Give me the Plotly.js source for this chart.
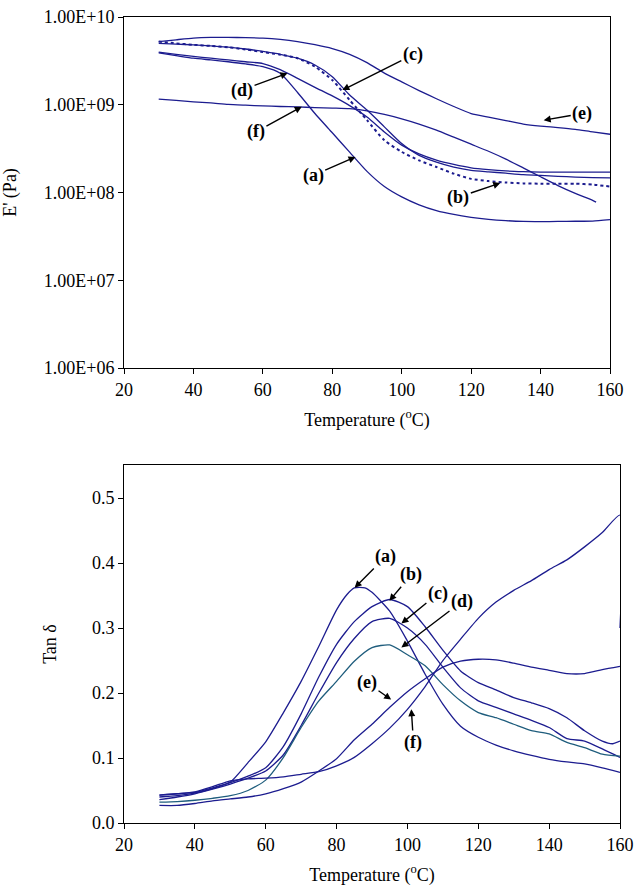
<!DOCTYPE html>
<html>
<head>
<meta charset="utf-8">
<script src="https://cdn.plot.ly/plotly-3.0.1.min.js"></script>
<style>html,body{margin:0;padding:0;background:#fff}#chart{width:634px;height:887px}</style>
</head>
<body>
<div id="chart"></div>
<script>
// ---------- Storage modulus E' (Pa) ----------
var tE = [30,35,40,45,50,55,60,65,70,75,80,85,90,95,100,105,110,115,120,125,130,135,140,145,150,155,160];
var tEf = [30,35,40,45,50,55,60,65,70,75,80,85,90,95,100,105,110,115,120,125,130,135,140,145,150,155,156];
var Ea = [3.89e9,3.63e9,3.39e9,3.24e9,3.09e9,2.92e9,2.72e9,2.29e9,1.38e9,7.94e8,4.79e8,2.88e8,1.74e8,1.17e8,8.91e7,7.24e7,6.22e7,5.62e7,5.22e7,4.95e7,4.78e7,4.68e7,4.66e7,4.68e7,4.70e7,4.73e7,4.90e7];
var Eb = [5.25e9,5.01e9,4.82e9,4.68e9,4.52e9,4.27e9,3.98e9,3.72e9,3.39e9,2.72e9,1.91e9,1.13e9,6.67e8,3.94e8,2.90e8,2.32e8,1.95e8,1.64e8,1.43e8,1.35e8,1.30e8,1.27e8,1.26e8,1.26e8,1.26e8,1.23e8,1.17e8];
var Ec = [5.01e9,4.90e9,4.82e9,4.68e9,4.53e9,4.32e9,4.05e9,3.76e9,3.39e9,2.84e9,2.09e9,1.29e9,8.69e8,5.60e8,3.61e8,2.65e8,2.22e8,1.95e8,1.79e8,1.72e8,1.66e8,1.60e8,1.57e8,1.53e8,1.50e8,1.48e8,1.47e8];
var Ed = [3.98e9,3.76e9,3.55e9,3.39e9,3.24e9,3.09e9,2.95e9,2.51e9,2.00e9,1.58e9,1.26e9,9.77e8,7.24e8,4.90e8,3.47e8,2.75e8,2.34e8,2.09e8,1.91e8,1.82e8,1.76e8,1.73e8,1.71e8,1.71e8,1.71e8,1.71e8,1.71e8];
var Ee = [5.25e9,5.50e9,5.75e9,5.85e9,5.85e9,5.82e9,5.75e9,5.56e9,5.25e9,4.84e9,4.37e9,3.76e9,3.02e9,2.29e9,1.82e9,1.45e9,1.17e9,9.55e8,7.94e8,7.24e8,6.61e8,6.03e8,5.71e8,5.50e8,5.25e8,4.90e8,4.61e8];
var Ef = [1.16e9,1.12e9,1.08e9,1.05e9,1.01e9,9.89e8,9.70e8,9.55e8,9.44e8,9.29e8,9.16e8,9.02e8,8.51e8,7.76e8,6.92e8,6.03e8,5.13e8,4.27e8,3.55e8,2.95e8,2.40e8,1.91e8,1.51e8,1.20e8,9.77e7,8.13e7,7.76e7];
var eTickVals = [1e6,1e7,1e8,1e9,1e10];
var eTickText = ['1.00E+06','1.00E+07','1.00E+08','1.00E+09','1.00E+10'];

// ---------- Tan delta ----------
var tTa = [30,35,40,45,50,55,60,65,70,75,80,83,85,88,90,95,100,105,110,115,120,125,130,135,140,145,150,155,160];
var Ta = [0.040,0.042,0.046,0.053,0.063,0.093,0.125,0.170,0.218,0.272,0.328,0.352,0.362,0.362,0.355,0.326,0.280,0.229,0.183,0.149,0.132,0.120,0.111,0.104,0.098,0.094,0.091,0.085,0.078];
var tTb = [30,35,40,45,50,55,60,65,70,75,80,85,90,95,100,105,110,115,120,125,130,135,140,145,150,155,158,160];
var Tb = [0.043,0.045,0.047,0.054,0.062,0.072,0.085,0.118,0.168,0.225,0.275,0.310,0.333,0.344,0.333,0.302,0.266,0.234,0.216,0.205,0.193,0.185,0.176,0.162,0.142,0.126,0.122,0.126];
var tT = [30,35,40,45,50,55,60,65,70,75,80,85,90,95,100,105,110,115,120,125,130,135,140,145,150,155,160];
var Tc = [0.036,0.040,0.045,0.052,0.060,0.069,0.080,0.105,0.150,0.200,0.247,0.284,0.310,0.315,0.300,0.275,0.240,0.208,0.188,0.178,0.168,0.158,0.147,0.130,0.126,0.114,0.101];
var Td = [0.032,0.033,0.035,0.038,0.042,0.050,0.066,0.101,0.147,0.188,0.218,0.249,0.270,0.274,0.259,0.242,0.213,0.188,0.170,0.162,0.152,0.142,0.137,0.124,0.116,0.106,0.103];
var Te = [0.027,0.027,0.030,0.034,0.037,0.040,0.045,0.053,0.063,0.080,0.099,0.128,0.152,0.178,0.202,0.222,0.240,0.249,0.252,0.251,0.246,0.240,0.235,0.230,0.230,0.236,0.241];
var tTf = [30,35,40,45,50,55,60,65,70,75,80,85,90,95,100,105,110,115,120,125,130,135,140,145,150,155,160,160];
var Tf = [0.043,0.045,0.048,0.056,0.065,0.068,0.069,0.071,0.075,0.079,0.088,0.101,0.122,0.146,0.175,0.210,0.250,0.283,0.315,0.340,0.358,0.373,0.390,0.405,0.425,0.447,0.474,0.300];
var xTicks = [20,40,60,80,100,120,140,160];
var tanTicks = [0,0.1,0.2,0.3,0.4,0.5];

var NAVY = '#1c1c8f', TEAL = '#1f5d7d';
function ln(x, y, xa, ya, color, dash, w) {
  return {x: x, y: y, xaxis: xa, yaxis: ya, type: 'scatter', mode: 'lines',
    line: {color: color, width: w || 1.3, dash: dash || 'solid', shape: 'spline', smoothing: 0.6},
    showlegend: false, hoverinfo: 'skip'};
}
var data = [
  ln(tE, Ea, 'x', 'y', NAVY), ln(tE, Eb, 'x', 'y', NAVY, 'dot', 2), ln(tE, Ec, 'x', 'y', NAVY),
  ln(tE, Ed, 'x', 'y', NAVY), ln(tE, Ee, 'x', 'y', NAVY), ln(tEf, Ef, 'x', 'y', NAVY),
  ln(tTa, Ta, 'x2', 'y2', NAVY), ln(tTb, Tb, 'x2', 'y2', NAVY), ln(tT, Tc, 'x2', 'y2', NAVY),
  ln(tT, Td, 'x2', 'y2', TEAL), ln(tT, Te, 'x2', 'y2', NAVY), ln(tTf, Tf, 'x2', 'y2', NAVY)
];

var FONT = 'Liberation Serif, Times New Roman, serif';
var FS = 18;
var W = 634, H = 887;
function ax(extra) {
  var base = {showline: true, mirror: true, linecolor: '#000', linewidth: 1, ticks: 'outside', ticklen: 5,
    tickcolor: '#000', tickwidth: 1, showgrid: false, zeroline: false,
    tickfont: {family: FONT, size: FS, color: '#000'}};
  for (var k in extra) base[k] = extra[k];
  return base;
}
var tTitle = {text: 'Temperature (<sup>o</sup>C)', font: {family: FONT, size: FS, color: '#000'}, standoff: 14};

function arrow(xr, yr, tx, ty, lx, ly, label) {
  return {xref: xr, yref: yr, axref: xr, ayref: yr, x: tx, y: ty, ax: lx, ay: ly, text: '<b>' + label + '</b>',
    showarrow: true, arrowhead: 2, arrowsize: 1, arrowwidth: 1.4, arrowcolor: '#000',
    font: {family: FONT, size: FS, color: '#000'}};
}
var L = Math.log10;
var annotations = [
  arrow('x', 'y', 82.9, L(1.47e9), 103.2, L(3.7e9), '(c)'),
  arrow('x', 'y', 67.1, L(2.29e9), 54, L(1.47e9), '(d)'),
  arrow('x', 'y', 71.2, L(9.5e8), 58, L(4.9e8), '(f)'),
  arrow('x', 'y', 86.7, L(2.54e8), 74.5, L(1.57e8), '(a)'),
  arrow('x', 'y', 128.4, L(1.28e8), 116.3, L(8.85e7), '(b)'),
  arrow('x', 'y', 140.9, L(6.67e8), 152, L(7.94e8), '(e)'),
  arrow('x2', 'y2', 85.1, 0.362, 93.9, 0.41, '(a)'),
  arrow('x2', 'y2', 94.9, 0.342, 101.1, 0.382, '(b)'),
  arrow('x2', 'y2', 98.3, 0.307, 108.6, 0.353, '(c)'),
  arrow('x2', 'y2', 98.3, 0.27, 115.4, 0.341, '(d)'),
  arrow('x2', 'y2', 95.4, 0.19, 88.6, 0.216, '(e)'),
  arrow('x2', 'y2', 101.1, 0.175, 101.7, 0.124, '(f)')
];

var layout = {
  width: W, height: H, margin: {l: 0, r: 0, t: 0, b: 0}, paper_bgcolor: '#fff', plot_bgcolor: '#fff',
  showlegend: false, font: {family: FONT, color: '#000'},
  xaxis: ax({domain: [124 / W, 610 / W], range: [20, 160], tickvals: xTicks, anchor: 'y', title: tTitle}),
  yaxis: ax({domain: [1 - 368 / H, 1 - 17 / H], type: 'log', range: [6, 10], tickvals: eTickVals, ticktext: eTickText, anchor: 'x',
    title: {text: "E' (Pa)", font: {family: FONT, size: FS, color: '#000'}, standoff: 26}}),
  xaxis2: ax({domain: [124 / W, 620 / W], range: [20, 160], tickvals: xTicks, anchor: 'y2', title: tTitle}),
  yaxis2: ax({domain: [1 - 823 / H, 1 - 465 / H], range: [0, 0.551], tickvals: tanTicks, tickformat: '.1f', anchor: 'x2',
    title: {text: 'Tan δ', font: {family: FONT, size: FS, color: '#000'}, standoff: 30}}),
  annotations: annotations
};
Plotly.newPlot('chart', data, layout, {staticPlot: true, displayModeBar: false});
</script>
</body>
</html>
